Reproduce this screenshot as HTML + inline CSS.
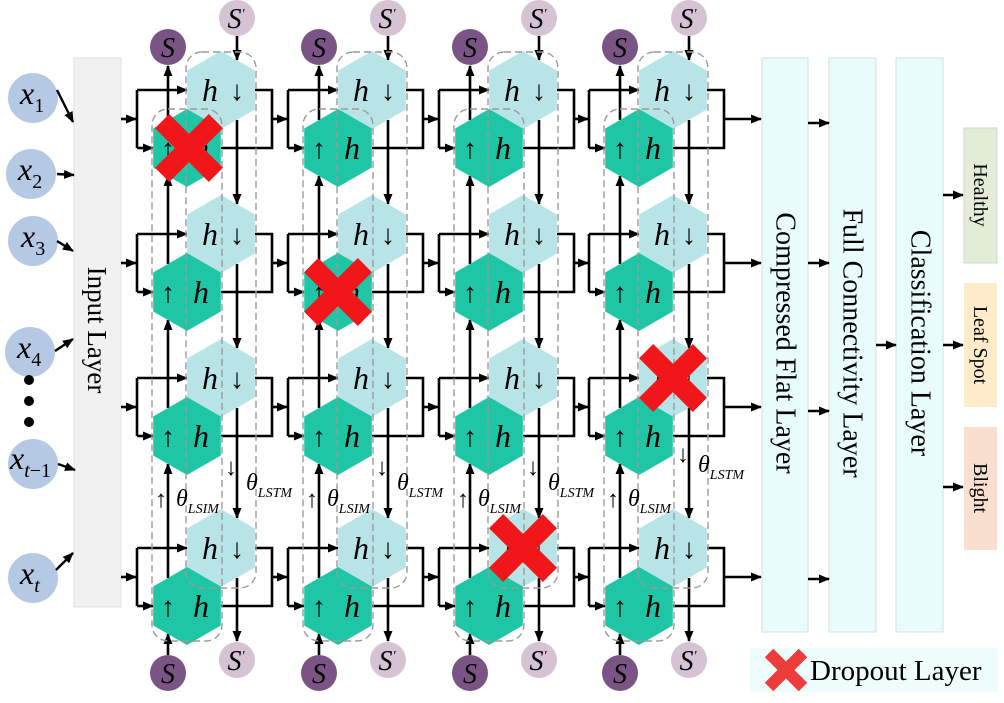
<!DOCTYPE html>
<html><head><meta charset="utf-8"><style>
html,body{margin:0;padding:0;background:#fff;}
svg, svg text, svg tspan{font-family:"Liberation Serif","DejaVu Serif","Noto Serif CJK SC",serif;}
.it{font-style:italic;}
</style></head><body>
<svg width="1004" height="698" viewBox="0 0 1004 698" xmlns="http://www.w3.org/2000/svg" font-family="Liberation Serif, DejaVu Serif, Noto Serif CJK SC, serif">
<defs>
<marker id="ah" markerUnits="userSpaceOnUse" markerWidth="11" markerHeight="9" refX="10" refY="4.5" orient="auto"><path d="M0,0 L11,4.5 L0,9 z" fill="#000"/></marker>
<polygon id="hx" points="0,-39 33.8,-19.5 33.8,19.5 0,39 -33.8,19.5 -33.8,-19.5"/>
<g id="col">
 <g stroke="#000" stroke-width="2.6" fill="none">
  <line x1="-66" y1="119" x2="-51" y2="119" marker-end="url(#ah)"/>
  <polyline points="-50,90 -50,148"/><line x1="-50" y1="90" x2="0" y2="90" marker-end="url(#ah)"/><line x1="-50" y1="148" x2="-34" y2="148" marker-end="url(#ah)"/>
  <polyline points="68,90 85,90 85,148 34,148"/>
  <line x1="-66" y1="263" x2="-51" y2="263" marker-end="url(#ah)"/>
  <polyline points="-50,234 -50,292"/><line x1="-50" y1="234" x2="0" y2="234" marker-end="url(#ah)"/><line x1="-50" y1="292" x2="-34" y2="292" marker-end="url(#ah)"/>
  <polyline points="68,234 85,234 85,292 34,292"/>
  <line x1="-66" y1="407" x2="-51" y2="407" marker-end="url(#ah)"/>
  <polyline points="-50,378 -50,436"/><line x1="-50" y1="378" x2="0" y2="378" marker-end="url(#ah)"/><line x1="-50" y1="436" x2="-34" y2="436" marker-end="url(#ah)"/>
  <polyline points="68,378 85,378 85,436 34,436"/>
  <line x1="-66" y1="577" x2="-51" y2="577" marker-end="url(#ah)"/>
  <polyline points="-50,548 -50,606"/><line x1="-50" y1="548" x2="0" y2="548" marker-end="url(#ah)"/><line x1="-50" y1="606" x2="-34" y2="606" marker-end="url(#ah)"/>
  <polyline points="68,548 85,548 85,606 34,606"/>
  <line x1="50" y1="36" x2="50" y2="60" marker-end="url(#ah)"/>
  <line x1="50" y1="120" x2="50" y2="204" marker-end="url(#ah)"/>
  <line x1="50" y1="264" x2="50" y2="348" marker-end="url(#ah)"/>
  <line x1="50" y1="408" x2="50" y2="518" marker-end="url(#ah)"/>
  <line x1="50" y1="578" x2="50" y2="641" marker-end="url(#ah)"/>
  <line x1="-19" y1="655" x2="-19" y2="634" marker-end="url(#ah)"/>
  <line x1="-19" y1="578" x2="-19" y2="464" marker-end="url(#ah)"/>
  <line x1="-19" y1="408" x2="-19" y2="320" marker-end="url(#ah)"/>
  <line x1="-19" y1="264" x2="-19" y2="176" marker-end="url(#ah)"/>
  <line x1="-19" y1="120" x2="-19" y2="66" marker-end="url(#ah)"/>
 </g>
 <g fill="#b8e3e7">
  <use href="#hx" x="34" y="90"/><use href="#hx" x="34" y="234"/><use href="#hx" x="34" y="378"/><use href="#hx" x="34" y="548"/>
 </g>
 <g fill="#1fc6a6">
  <use href="#hx" x="0" y="148"/><use href="#hx" x="0" y="292"/><use href="#hx" x="0" y="436"/><use href="#hx" x="0" y="606"/>
 </g>
 <g fill="none" stroke="#9a9a9a" stroke-width="1.4" stroke-dasharray="7,4">
  <rect x="-1" y="52" width="70" height="536" rx="16"/>
  <rect x="-35" y="109" width="70" height="532" rx="16"/>
 </g>
 <circle cx="-19" cy="47" r="18" fill="#7b5486"/>
 <circle cx="50" cy="18" r="18" fill="#d5c3d3"/>
 <circle cx="-19" cy="673" r="18" fill="#7b5486"/>
 <circle cx="50" cy="660" r="18" fill="#d5c3d3"/>
</g>
</defs>

<rect x="74" y="58" width="47" height="549" fill="#f1f1f1" stroke="#e0e0e0"/>
<text x="97" y="330" font-size="27" text-anchor="middle" dominant-baseline="central" transform="rotate(90 97 330)">Input Layer</text>

<g fill="#b5c9e5">
<circle cx="33" cy="98" r="25"/><circle cx="31" cy="174" r="25"/><circle cx="33" cy="241" r="25"/><circle cx="30" cy="352" r="25"/><circle cx="33" cy="464" r="25"/><circle cx="33" cy="578" r="25"/>
</g>
<g fill="#000"><circle cx="29" cy="380" r="5"/><circle cx="29" cy="401" r="5"/><circle cx="29" cy="422" r="5"/></g>
<g font-size="32" class="it">
<text x="20" y="104">x<tspan font-size="20" font-style="normal" dy="8">1</tspan></text>
<text x="18" y="180">x<tspan font-size="20" font-style="normal" dy="8">2</tspan></text>
<text x="21" y="247">x<tspan font-size="20" font-style="normal" dy="8">3</tspan></text>
<text x="17" y="358">x<tspan font-size="20" font-style="normal" dy="8">4</tspan></text>
<text x="10" y="469">x<tspan font-size="20" dy="8">t</tspan><tspan font-size="20" font-style="normal">−1</tspan></text>
<text x="20" y="584">x<tspan font-size="20" dy="8">t</tspan></text>
</g>
<g stroke="#000" stroke-width="2.4">
<line x1="57" y1="90" x2="73" y2="122" marker-end="url(#ah)"/>
<line x1="57" y1="174" x2="74" y2="175" marker-end="url(#ah)"/>
<line x1="57" y1="241" x2="73" y2="251" marker-end="url(#ah)"/>
<line x1="55" y1="351" x2="73" y2="339" marker-end="url(#ah)"/>
<line x1="58" y1="464" x2="75" y2="470" marker-end="url(#ah)"/>
<line x1="56" y1="570" x2="73" y2="553" marker-end="url(#ah)"/>
</g>

<use href="#col" x="187" y="0"/>
<use href="#col" x="338" y="0"/>
<use href="#col" x="489" y="0"/>
<use href="#col" x="639" y="0"/>

<g stroke="#000" stroke-width="2.6">
<line x1="724" y1="119" x2="761" y2="119" marker-end="url(#ah)"/>
<line x1="724" y1="263" x2="761" y2="263" marker-end="url(#ah)"/>
<line x1="724" y1="407" x2="761" y2="407" marker-end="url(#ah)"/>
<line x1="724" y1="577" x2="761" y2="577" marker-end="url(#ah)"/>
</g>

<g font-size="32">
<text x="168" y="158" text-anchor="middle" font-size="28">↑</text><text x="201" y="159" text-anchor="middle" class="it">h</text>
<text x="168" y="302" text-anchor="middle" font-size="28">↑</text><text x="201" y="303" text-anchor="middle" class="it">h</text>
<text x="168" y="446" text-anchor="middle" font-size="28">↑</text><text x="201" y="447" text-anchor="middle" class="it">h</text>
<text x="168" y="616" text-anchor="middle" font-size="28">↑</text><text x="201" y="617" text-anchor="middle" class="it">h</text>
<text x="210" y="101" text-anchor="middle" class="it">h</text><text x="237" y="100" text-anchor="middle" font-size="28">↓</text>
<text x="210" y="245" text-anchor="middle" class="it">h</text><text x="237" y="244" text-anchor="middle" font-size="28">↓</text>
<text x="210" y="389" text-anchor="middle" class="it">h</text><text x="237" y="388" text-anchor="middle" font-size="28">↓</text>
<text x="210" y="559" text-anchor="middle" class="it">h</text><text x="237" y="558" text-anchor="middle" font-size="28">↓</text>
<text x="319" y="158" text-anchor="middle" font-size="28">↑</text><text x="352" y="159" text-anchor="middle" class="it">h</text>
<text x="319" y="302" text-anchor="middle" font-size="28">↑</text><text x="352" y="303" text-anchor="middle" class="it">h</text>
<text x="319" y="446" text-anchor="middle" font-size="28">↑</text><text x="352" y="447" text-anchor="middle" class="it">h</text>
<text x="319" y="616" text-anchor="middle" font-size="28">↑</text><text x="352" y="617" text-anchor="middle" class="it">h</text>
<text x="361" y="101" text-anchor="middle" class="it">h</text><text x="388" y="100" text-anchor="middle" font-size="28">↓</text>
<text x="361" y="245" text-anchor="middle" class="it">h</text><text x="388" y="244" text-anchor="middle" font-size="28">↓</text>
<text x="361" y="389" text-anchor="middle" class="it">h</text><text x="388" y="388" text-anchor="middle" font-size="28">↓</text>
<text x="361" y="559" text-anchor="middle" class="it">h</text><text x="388" y="558" text-anchor="middle" font-size="28">↓</text>
<text x="470" y="158" text-anchor="middle" font-size="28">↑</text><text x="503" y="159" text-anchor="middle" class="it">h</text>
<text x="470" y="302" text-anchor="middle" font-size="28">↑</text><text x="503" y="303" text-anchor="middle" class="it">h</text>
<text x="470" y="446" text-anchor="middle" font-size="28">↑</text><text x="503" y="447" text-anchor="middle" class="it">h</text>
<text x="470" y="616" text-anchor="middle" font-size="28">↑</text><text x="503" y="617" text-anchor="middle" class="it">h</text>
<text x="512" y="101" text-anchor="middle" class="it">h</text><text x="539" y="100" text-anchor="middle" font-size="28">↓</text>
<text x="512" y="245" text-anchor="middle" class="it">h</text><text x="539" y="244" text-anchor="middle" font-size="28">↓</text>
<text x="512" y="389" text-anchor="middle" class="it">h</text><text x="539" y="388" text-anchor="middle" font-size="28">↓</text>
<text x="512" y="559" text-anchor="middle" class="it">h</text><text x="539" y="558" text-anchor="middle" font-size="28">↓</text>
<text x="620" y="158" text-anchor="middle" font-size="28">↑</text><text x="653" y="159" text-anchor="middle" class="it">h</text>
<text x="620" y="302" text-anchor="middle" font-size="28">↑</text><text x="653" y="303" text-anchor="middle" class="it">h</text>
<text x="620" y="446" text-anchor="middle" font-size="28">↑</text><text x="653" y="447" text-anchor="middle" class="it">h</text>
<text x="620" y="616" text-anchor="middle" font-size="28">↑</text><text x="653" y="617" text-anchor="middle" class="it">h</text>
<text x="662" y="101" text-anchor="middle" class="it">h</text><text x="689" y="100" text-anchor="middle" font-size="28">↓</text>
<text x="662" y="245" text-anchor="middle" class="it">h</text><text x="689" y="244" text-anchor="middle" font-size="28">↓</text>
<text x="662" y="389" text-anchor="middle" class="it">h</text><text x="689" y="388" text-anchor="middle" font-size="28">↓</text>
<text x="662" y="559" text-anchor="middle" class="it">h</text><text x="689" y="558" text-anchor="middle" font-size="28">↓</text>
</g>

<g font-size="28" class="it" text-anchor="middle">
<text x="168" y="57">S</text><text x="236" y="28">S<tspan font-size="14" dy="-10">'</tspan></text>
<text x="319" y="57">S</text><text x="387" y="28">S<tspan font-size="14" dy="-10">'</tspan></text>
<text x="470" y="57">S</text><text x="538" y="28">S<tspan font-size="14" dy="-10">'</tspan></text>
<text x="620" y="57">S</text><text x="688" y="28">S<tspan font-size="14" dy="-10">'</tspan></text>
<text x="168" y="683">S</text><text x="236" y="670">S<tspan font-size="14" dy="-10">'</tspan></text>
<text x="319" y="683">S</text><text x="387" y="670">S<tspan font-size="14" dy="-10">'</tspan></text>
<text x="470" y="683">S</text><text x="538" y="670">S<tspan font-size="14" dy="-10">'</tspan></text>
<text x="620" y="683">S</text><text x="688" y="670">S<tspan font-size="14" dy="-10">'</tspan></text>
</g>

<g font-size="24">
<text x="155" y="507">↑</text><text x="176" y="506" class="it">θ<tspan font-size="14" dy="7">LSIM</tspan></text>
<text x="225" y="475">↓</text><text x="246" y="490" class="it">θ<tspan font-size="14" dy="7">LSTM</tspan></text>
<text x="306" y="507">↑</text><text x="327" y="506" class="it">θ<tspan font-size="14" dy="7">LSIM</tspan></text>
<text x="376" y="475">↓</text><text x="397" y="490" class="it">θ<tspan font-size="14" dy="7">LSTM</tspan></text>
<text x="457" y="507">↑</text><text x="478" y="506" class="it">θ<tspan font-size="14" dy="7">LSIM</tspan></text>
<text x="527" y="475">↓</text><text x="548" y="490" class="it">θ<tspan font-size="14" dy="7">LSTM</tspan></text>
<text x="607" y="507">↑</text><text x="628" y="506" class="it">θ<tspan font-size="14" dy="7">LSIM</tspan></text>
<text x="677" y="462">↓</text><text x="698" y="472" class="it">θ<tspan font-size="14" dy="7">LSTM</tspan></text>
</g>

<g fill="#f0161a">
<g transform="translate(189,148) rotate(45)"><rect x="-38" y="-10" width="76" height="20"/><rect x="-10" y="-38" width="20" height="76"/></g>
<g transform="translate(338,292) rotate(45)"><rect x="-38" y="-10" width="76" height="20"/><rect x="-10" y="-38" width="20" height="76"/></g>
<g transform="translate(673,378) rotate(45)"><rect x="-38" y="-10" width="76" height="20"/><rect x="-10" y="-38" width="20" height="76"/></g>
<g transform="translate(523,548) rotate(45)"><rect x="-38" y="-10" width="76" height="20"/><rect x="-10" y="-38" width="20" height="76"/></g>
</g>

<g fill="#e9fcfc" stroke="#d3dede" stroke-width="1">
<rect x="762" y="58" width="46" height="574"/>
<rect x="829" y="58" width="47" height="574"/>
<rect x="896" y="58" width="47" height="574"/>
</g>
<g font-size="28" text-anchor="middle" dominant-baseline="central">
<text x="785" y="343" transform="rotate(90 785 343)">Compressed Flat Layer</text>
<text x="852" y="343" transform="rotate(90 852 343)">Full Connectivity Layer</text>
<text x="920" y="343" transform="rotate(90 920 343)">Classification Layer</text>
</g>
<g stroke="#000" stroke-width="2.6">
<line x1="808" y1="123" x2="829" y2="123" marker-end="url(#ah)"/>
<line x1="808" y1="263" x2="829" y2="263" marker-end="url(#ah)"/>
<line x1="808" y1="411" x2="829" y2="411" marker-end="url(#ah)"/>
<line x1="808" y1="579" x2="829" y2="579" marker-end="url(#ah)"/>
<line x1="876" y1="345" x2="896" y2="345" marker-end="url(#ah)"/>
<line x1="943" y1="195" x2="963" y2="195" marker-end="url(#ah)"/>
<line x1="943" y1="345" x2="963" y2="345" marker-end="url(#ah)"/>
<line x1="943" y1="487" x2="963" y2="487" marker-end="url(#ah)"/>
</g>
<rect x="964" y="128" width="33" height="135" fill="#e2ecd6" stroke="#d0d8c8"/>
<rect x="964" y="283" width="33" height="124" fill="#fdebc9"/>
<rect x="964" y="427" width="33" height="123" fill="#f8dfd0"/>
<g font-size="20" text-anchor="middle" dominant-baseline="central">
<text x="980" y="195" transform="rotate(90 980 195)">Healthy</text>
<text x="980" y="345" transform="rotate(90 980 345)">Leaf Spot</text>
<text x="980" y="488" transform="rotate(90 980 488)">Blight</text>
</g>

<rect x="750" y="648" width="248" height="44" fill="#effcfc"/>
<g fill="#ee3b3b" transform="translate(786,670) rotate(45)"><rect x="-24" y="-6" width="48" height="12"/><rect x="-6" y="-24" width="12" height="48"/></g>
<text x="810" y="680" font-size="29">Dropout Layer</text>
</svg>
</body></html>
